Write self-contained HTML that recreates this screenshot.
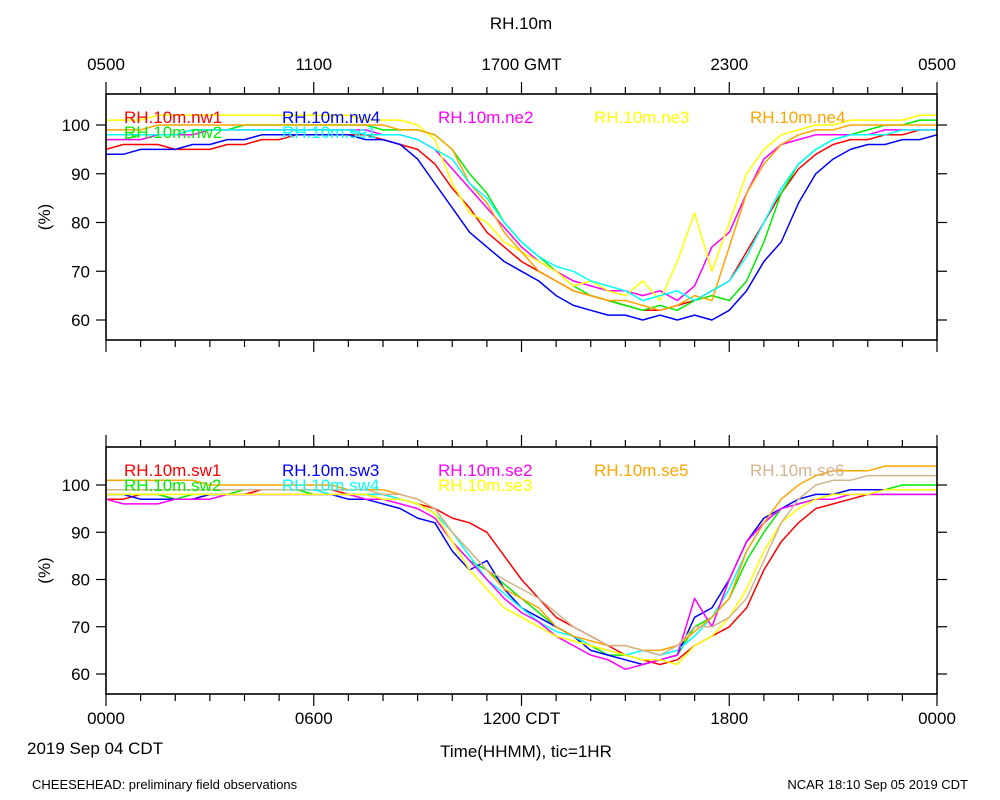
<!DOCTYPE html>
<html><head><meta charset="utf-8"><style>
html,body{margin:0;padding:0;background:#fff;}
svg{display:block;font-family:"Liberation Sans",sans-serif;}
</style></head><body>
<svg id="chart" width="1000" height="800" viewBox="0 0 1000 800">
<text x="521" y="29" font-size="17" text-anchor="middle">RH.10m</text>
<text x="526" y="757" font-size="17" text-anchor="middle">Time(HHMM), tic=1HR</text>
<text x="27" y="754" font-size="17">2019 Sep 04 CDT</text>
<text x="32" y="789" font-size="13">CHEESEHEAD: preliminary field observations</text>
<text x="968" y="789" font-size="13" text-anchor="end">NCAR 18:10 Sep 05 2019 CDT</text>
</svg>
<script>
const topLabels=["0500","1100","1700 GMT","2300","0500"];
const bottomLabels=["0000","0600","1200 CDT","1800","0000"];
const yTicks=[60,70,80,90,100];
const topNames=["RH.10m.nw1","RH.10m.nw2","RH.10m.nw4","RH.10m.ne2","RH.10m.ne3","RH.10m.ne4","RH.10m.se1"];
const topColors=["#ff0000","#00ee00","#0000ff","#ff00ff","#ffff00","#ffa500","#00ffff"];
const nw1=[95,96,96,96,95,95,95,96,96,97,97,98,98,98,98,98,97,96,95,92,87,83,78,75,72,70,68,66,65,64,63,62,62,63,64,66,68,74,80,86,91,94,96,97,97,98,98,99,99];
const nw2=[97,97,98,98,98,99,99,99,100,100,100,100,100,100,100,100,99,99,99,98,95,90,86,80,76,73,70,67,65,64,63,62,63,62,64,65,64,68,76,86,92,95,97,98,99,100,100,101,101];
const nw4=[94,94,95,95,95,96,96,97,97,98,98,98,98,98,98,97,97,96,93,88,83,78,75,72,70,68,65,63,62,61,61,60,61,60,61,60,62,66,72,76,84,90,93,95,96,96,97,97,98];
const ne2=[97,97,97,98,98,98,99,99,99,99,99,99,99,99,99,99,98,98,97,95,91,87,83,79,75,72,70,68,67,66,66,65,66,64,67,75,78,86,93,96,97,98,98,98,98,99,99,99,99];
const ne3=[101,101,101,102,102,102,102,102,102,102,102,102,102,102,102,101,101,101,100,97,88,82,80,76,74,72,70,67,68,66,65,68,64,72,82,70,80,90,95,98,99,100,100,101,101,101,101,102,102];
const ne4=[99,99,99,100,100,100,100,100,100,100,100,100,100,100,100,100,100,99,99,98,95,88,84,78,74,70,68,66,65,64,64,63,62,63,65,64,75,86,92,96,98,99,99,100,100,100,100,100,100];
const se1=[98,98,98,98,98,99,99,99,99,99,99,99,99,99,99,98,98,98,97,95,93,88,85,80,76,73,71,70,68,67,66,64,65,66,64,66,68,73,80,87,92,95,97,98,98,98,99,99,99];
const botNames=["RH.10m.sw1","RH.10m.sw2","RH.10m.sw3","RH.10m.sw4","RH.10m.se2","RH.10m.se3","RH.10m.se5","RH.10m.se6"];
const botColors=["#ff0000","#00ee00","#0000ff","#00ffff","#ff00ff","#ffff00","#ffa500","#d2b48c"];
const sw1=[97,97,98,98,97,97,98,98,98,99,99,99,99,99,98,98,98,97,96,95,93,92,90,85,80,76,72,70,68,66,64,63,62,63,66,68,70,74,82,88,92,95,96,97,98,98,98,98,98];
const sw2=[98,98,98,98,97,98,98,98,99,99,99,99,98,98,98,98,97,97,96,94,88,84,82,79,76,73,70,68,66,64,64,63,63,64,70,72,76,84,90,95,96,97,98,99,99,99,100,100,100];
const sw3=[98,98,97,97,97,97,98,98,98,98,98,98,98,98,97,97,96,95,93,92,86,82,84,78,74,72,70,68,65,64,63,62,63,64,72,74,80,88,93,95,97,98,98,99,99,99,99,99,99];
const sw4=[99,99,99,99,99,99,99,99,99,99,99,99,99,98,98,98,98,97,96,94,90,85,80,77,74,71,69,68,66,65,64,65,64,65,68,72,78,86,92,95,96,97,97,98,98,98,98,98,98];
const se2=[97,96,96,96,97,97,97,98,98,98,98,98,98,98,98,97,97,96,95,93,88,84,80,76,73,71,68,66,64,63,61,62,63,64,76,70,80,88,92,95,96,97,97,98,98,98,98,98,98];
const se3=[98,98,98,98,98,98,98,98,98,98,98,98,98,98,98,98,97,97,96,94,88,82,78,74,72,70,68,67,66,65,64,63,63,62,66,68,72,78,86,92,95,97,98,98,98,99,99,99,99];
const se5=[101,101,101,101,101,101,100,100,100,100,100,100,100,100,99,99,99,98,97,95,90,86,82,78,76,74,70,68,67,66,66,65,65,66,69,72,76,86,92,97,100,102,103,103,103,104,104,104,104];
const se6=[99,99,99,99,99,99,99,99,99,99,99,99,99,99,99,99,98,98,97,95,90,86,82,80,78,76,73,70,68,66,66,65,64,66,70,70,72,76,84,92,97,100,101,101,102,102,102,102,102];
const topSeries=[nw1,nw2,nw4,ne2,ne3,ne4,se1];
const botSeries=[sw1,sw2,sw3,sw4,se2,se3,se5,se6];

const NS="http://www.w3.org/2000/svg";
const svg=document.getElementById('chart');
const X0=106,X1=937;
const xScale=h=>X0+(X1-X0)*h/24;
function mk(tag,attrs){const e=document.createElementNS(NS,tag);for(const k in attrs)e.setAttribute(k,attrs[k]);svg.appendChild(e);return e;}

function panel(p){
  const yScale=v=>p.y100+(100-v)*(p.y60-p.y100)/40;
  // series
  p.series.forEach((s,i)=>{
    const pts=s.map((v,j)=>xScale(j*0.5).toFixed(1)+','+yScale(v).toFixed(1)).join(' ');
    const pl=mk('polyline',{points:pts,fill:'none',stroke:p.colors[i],'stroke-width':1.5,'stroke-linejoin':'round'});
    
    
  });
  // frame
  const fr=mk('rect',{x:X0,y:p.top,width:X1-X0,height:p.bot-p.top,fill:'none',stroke:'#000','stroke-width':1.6});
  
  
  // x ticks
  for(let h=0;h<=24;h++){
    const x=xScale(h),L=(h%6===0)?12:7;
    const t1=mk('line',{x1:x,x2:x,y1:p.top,y2:p.top-L,stroke:'#000','stroke-width':1.2});
    
    
    const t2=mk('line',{x1:x,x2:x,y1:p.bot,y2:p.bot+L,stroke:'#000','stroke-width':1.2});
    
    
  }
  // y ticks
  yTicks.forEach(v=>{
    const y=yScale(v);
    const a=mk('line',{x1:X0,x2:X0-10,y1:y,y2:y,stroke:'#000','stroke-width':1.2});
    
    
    const b=mk('line',{x1:X1,x2:X1+10,y1:y,y2:y,stroke:'#000','stroke-width':1.2});
    
    
    const t=mk('text',{x:X0-16,y:y+6,'font-size':17,'text-anchor':'end'});
    t.textContent=v;
    
    
  });
  const yt=mk('text',{x:0,y:0,'font-size':17,'text-anchor':'middle',transform:`translate(50,${(p.top+p.bot)/2}) rotate(-90)`});
  yt.textContent='(%)';
  
  
  // legend
  p.names.forEach((n,i)=>{
    const lx=p.legPos[i][0],ly=p.legPos[i][1];
    const t=mk('text',{x:lx,y:ly,'font-size':17,fill:p.colors[i]});
    t.textContent=n;
    
    
  });
}
panel({key:'top',top:94,bot:340,y100:125,y60:320,series:topSeries,names:topNames,colors:topColors,
  legPos:[[124,123],[124,138],[282,123],[438,123],[594,123],[750,123],[282,138]]});
panel({key:'bottom',top:447,bot:694,y100:485,y60:674,series:botSeries,names:botNames,colors:botColors,
  legPos:[[124,476],[124,491],[282,476],[282,491],[438,476],[438,491],[594,476],[750,476]]});

topLabels.forEach((l,i)=>{
  const t=mk('text',{x:xScale(i*6),y:70,'font-size':17,'text-anchor':'middle'});
  t.textContent=l;
  
  
});
bottomLabels.forEach((l,i)=>{
  const t=mk('text',{x:xScale(i*6),y:724,'font-size':17,'text-anchor':'middle'});
  t.textContent=l;
  
  
});
</script>
</body></html>
